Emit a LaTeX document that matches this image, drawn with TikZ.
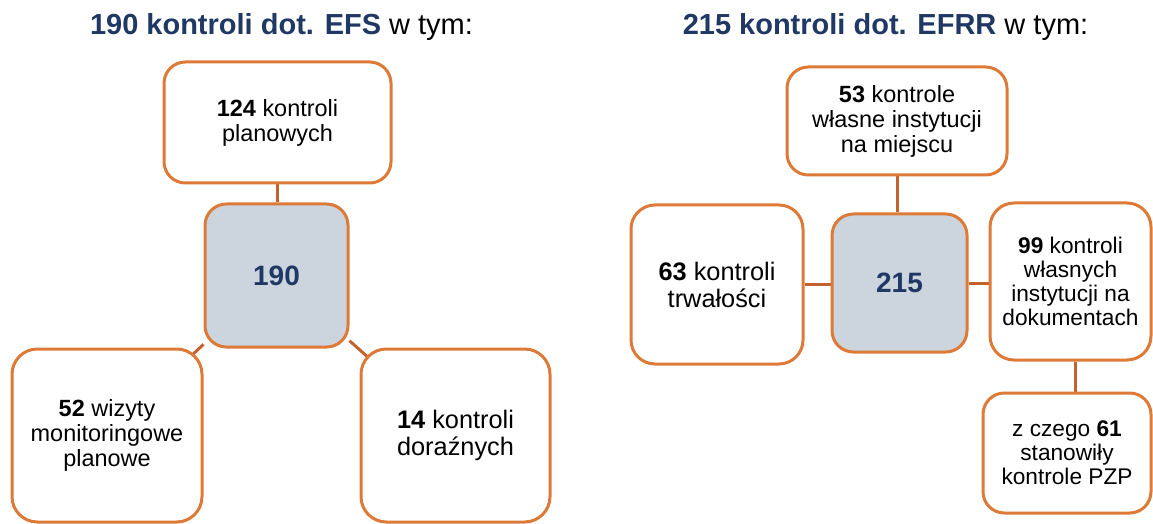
\documentclass[tikz,border=0pt]{standalone}
\usepackage{fontspec}
\setmainfont{Liberation Sans}
\usetikzlibrary{backgrounds}
\definecolor{boxorange}{RGB}{222,122,55}
\definecolor{lineorange}{RGB}{196,98,45}
\definecolor{centerfill}{RGB}{204,212,222}
\definecolor{darkblue}{RGB}{31,56,100}
\begin{document}
\begin{tikzpicture}[x=0.75pt,y=-0.75pt,
  box/.style={draw=boxorange, line width=2.25pt, fill=white, rounded corners=16pt, align=center, inner sep=0pt},
  hub/.style={box, fill=centerfill, text=darkblue, font=\fontsize{21}{25}\selectfont\bfseries},
  link/.style={draw=lineorange, line width=2.25pt},
  txtA/.style={font=\fontsize{17.6}{18.75}\selectfont},
  txtB/.style={font=\fontsize{19}{20.25}\selectfont},
  txtC/.style={font=\fontsize{17}{18}\selectfont},
  title/.style={font=\fontsize{21.75}{26}\selectfont, inner sep=0pt, anchor=base},
]
\useasboundingbox (0,0) rectangle (1153,524);

% titles
\node[title] (title1) at (281.5,35) {\textbf{\color{darkblue}190 kontroli dot. EFS} w tym:};
\node[title] (title2) at (885.5,35) {\textbf{\color{darkblue}215 kontroli dot. EFRR} w tym:};

% left group
\node[box, txtA, minimum width=170.25pt, minimum height=90.75pt] (t1) at (277.5,122.5) {\textbf{124} kontroli\\planowych};
\node[hub, minimum width=107.25pt, minimum height=107.25pt] (c1) at (276.5,275.5) {190};
\node[box, txtA, rounded corners=19pt, minimum width=142.5pt, minimum height=129.75pt] (l1) at (107,435.5) {\textbf{52} wizyty\\monitoringowe\\planowe};
\node[box, txtB, rounded corners=19pt, minimum width=141.75pt, minimum height=129.75pt] (r1) at (455.5,435.5) {\textbf{14} kontroli\\doraźnych};

% right group
\node[box, txtA, minimum width=165pt, minimum height=81pt] (t2) at (897,121) {\textbf{53} kontrole\\własne instytucji\\na miejscu};
\node[hub, minimum width=101.25pt, minimum height=103.5pt] (c2) at (899.5,283) {215};
\node[box, txtB, rounded corners=18pt, minimum width=129pt, minimum height=119.25pt] (l2) at (717,284.5) {\textbf{63} kontroli\\trwałości};
\node[box, txtC, rounded corners=18pt, minimum width=120.75pt, minimum height=117.75pt] (r2) at (1070.5,281.5) {\textbf{99} kontroli\\własnych\\instytucji na\\dokumentach};
\node[box, txtC, minimum width=126pt, minimum height=90pt] (p2) at (1067,453) {z czego \textbf{61}\\stanowiły\\kontrole PZP};

% connectors
\begin{scope}[on background layer]
\draw[link] (t1.south) -- (t1.south |- c1.north);
\draw[link] (c1) -- (l1.center);
\draw[link] (c1) -- (r1.center);
\draw[link] (t2.south) -- (t2.south |- c2.north);
\draw[link] (l2.east) -- (l2.east -| c2.west);
\draw[link] (c2.east) -- (c2.east -| r2.west);
\draw[link] ([xshift=3.4pt]r2.south) -- ([xshift=3.4pt]r2.south |- p2.north);
\end{scope}
\end{tikzpicture}
\end{document}
